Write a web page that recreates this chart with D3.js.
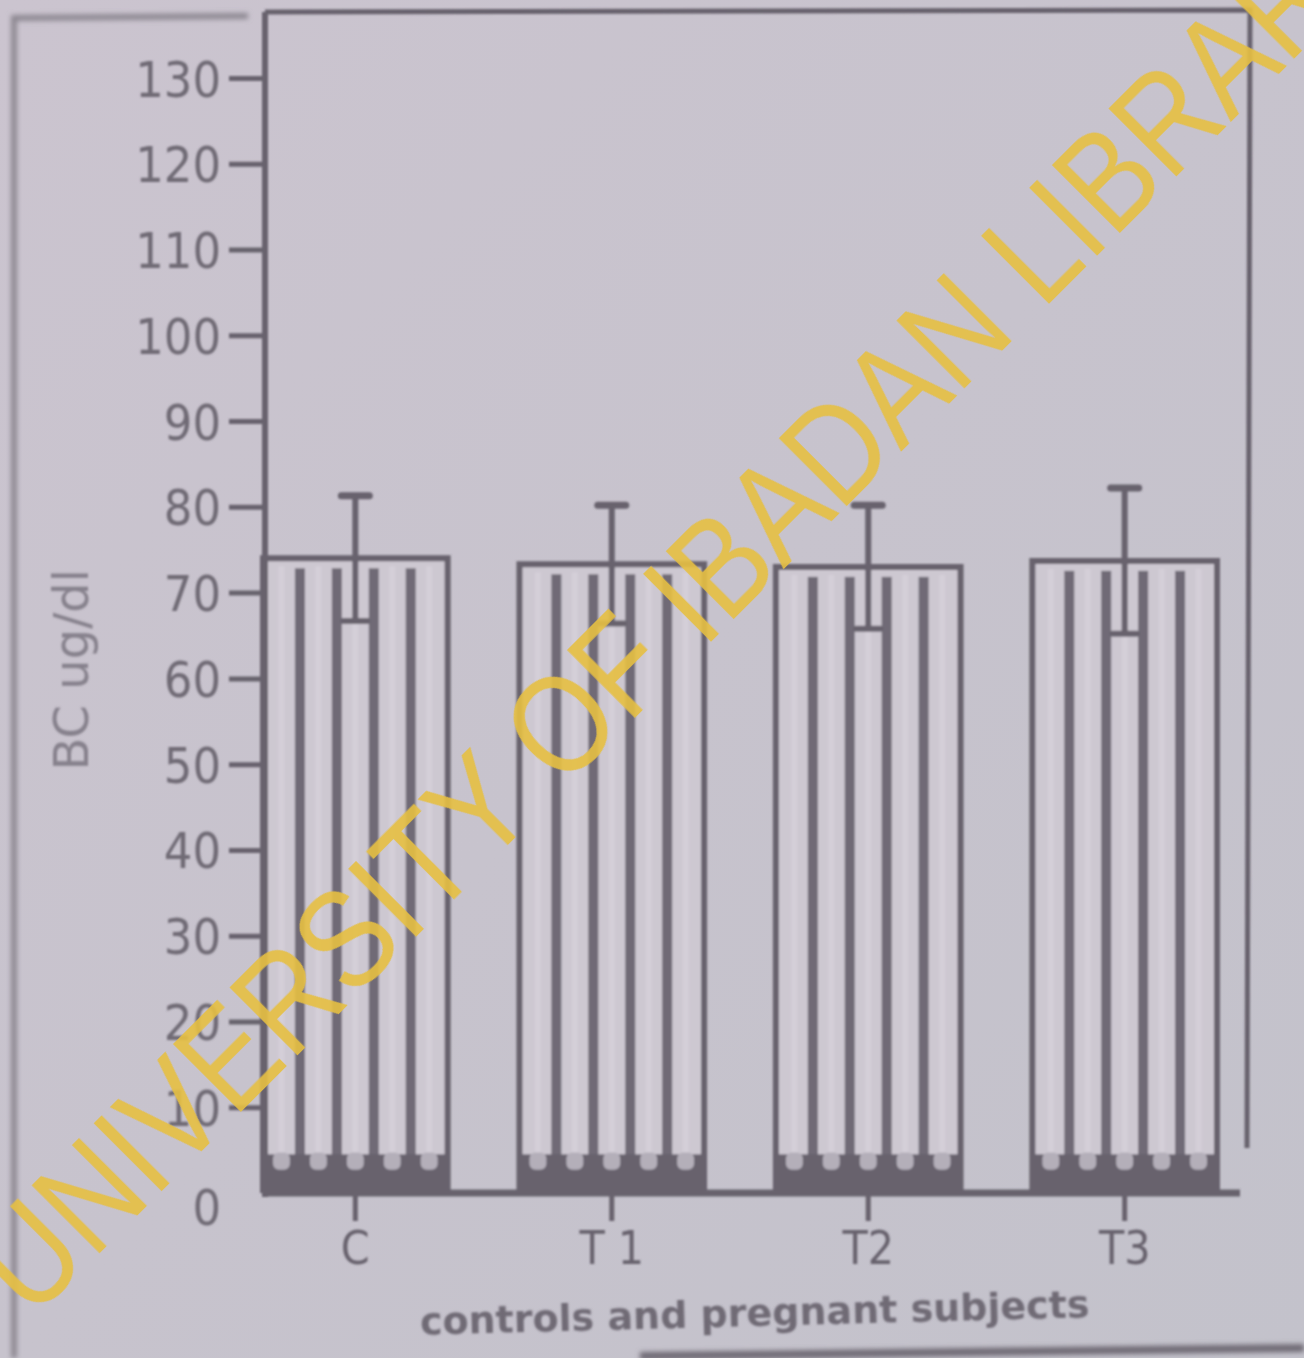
<!DOCTYPE html>
<html>
<head>
<meta charset="utf-8">
<script src="https://cdn.jsdelivr.net/npm/d3@7"></script>
<style>
  html, body { margin: 0; padding: 0; background: #c9c4cd; }
  svg { display: block; }
</style>
</head>
<body>
<svg id="chart" width="1304" height="1358"></svg>
<script>
// Serum BC (ug/dl) in controls and pregnant subjects, mean with SD
const groups = ["C", "T1", "T2", "T3"];
const groupLabels = ["C", "T 1", "T2", "T3"];
const means = [74.0, 73.3, 73.0, 73.7];
const sds = [7.3, 6.9, 7.2, 8.5];
const yTicks = [0, 10, 20, 30, 40, 50, 60, 70, 80, 90, 100, 110, 120, 130];

const W = 1304, H = 1358;
const ink = "#67626d";
const svg = d3.select("#chart");

const defs = svg.append("defs");
const soft = defs.append("filter").attr("id", "soft").attr("x", "-5%").attr("y", "-5%").attr("width", "110%").attr("height", "110%");
soft.append("feGaussianBlur").attr("stdDeviation", 0.9);
const edgeBlur = defs.append("filter").attr("id", "edgeBlur");
edgeBlur.append("feGaussianBlur").attr("stdDeviation", 2.5);

// paper background with a slight cooler tint towards the right
const bg = defs.append("linearGradient").attr("id", "paper").attr("x1", 0).attr("y1", 0).attr("x2", 1).attr("y2", 1);
bg.append("stop").attr("offset", 0).attr("stop-color", "#cbc4cf");
bg.append("stop").attr("offset", 1).attr("stop-color", "#c3c2cb");
svg.append("rect").attr("width", W).attr("height", H).attr("fill", "url(#paper)");

// sheet edges
const edges = svg.append("g").attr("filter", "url(#edgeBlur)").attr("stroke", "#8d8892").attr("fill", "none");
edges.append("path").attr("d", "M14,1358 L14,18 L248,16").attr("stroke-width", 6);
edges.append("path").attr("d", "M640,1356 L1304,1348").attr("stroke", "#6f6a74").attr("stroke-width", 8);

const x = d3.scaleBand().domain(groups).range([263, 1217]).paddingInner(0.28).paddingOuter(0);
const y = d3.scaleLinear().domain([0, 130]).range([1193, 78]);

const plot = svg.append("g").attr("filter", "url(#soft)");

// frame: top and right border of the plotting area
plot.append("path")
  .attr("d", `M265,12 L1250,10 L1247,${y(0) - 45}`)
  .attr("fill", "none").attr("stroke", ink).attr("stroke-width", 5);

// bars with vertical hatching
const nStripes = 5;
const bars = plot.selectAll("g.bar").data(groups).join("g").attr("class", "bar");
bars.each(function(g, i) {
  const sel = d3.select(this);
  const x0 = x(g), bw = x.bandwidth();
  const top = y(means[i]), bottom = y(0);
  sel.append("rect").attr("x", x0).attr("y", top).attr("width", bw).attr("height", bottom - top)
    .attr("fill", "#cdc8d1");
  // light inner highlights
  for (let k = 0; k < nStripes; k++) {
    sel.append("rect")
      .attr("x", x0 + bw * (k + 0.5) / nStripes - 3).attr("y", top + 8)
      .attr("width", 6).attr("height", bottom - top - 8)
      .attr("fill", "#d8d4dc").attr("opacity", 0.6);
  }
  // interior dark stripes
  for (let k = 1; k < nStripes; k++) {
    sel.append("rect")
      .attr("x", x0 + bw * k / nStripes - 5).attr("y", top + 10)
      .attr("width", 10).attr("height", bottom - top - 10)
      .attr("fill", "#57525f").attr("opacity", 0.8);
  }
  // outline: left, right and top edge
  sel.append("path")
    .attr("d", `M${x0},${bottom} L${x0},${top} L${x0 + bw},${top} L${x0 + bw},${bottom}`)
    .attr("fill", "none").attr("stroke", ink).attr("stroke-width", 6);
  // heavy inked base of the bar
  sel.append("rect").attr("x", x0).attr("y", y(4.5)).attr("width", bw).attr("height", bottom - y(4.5))
    .attr("fill", ink);
  for (let k = 0; k < nStripes; k++) {
    sel.append("rect")
      .attr("x", x0 + bw * k / nStripes + 10).attr("y", y(4.5) - 2)
      .attr("width", bw / nStripes - 20).attr("height", (bottom - y(4.5)) * 0.45)
      .attr("rx", 6)
      .attr("fill", "#b4afb9");
  }
});

// error bars (mean ± SD)
const err = plot.selectAll("g.err").data(groups).join("g").attr("class", "err")
  .attr("stroke", ink).attr("fill", "none");
err.append("line")
  .attr("x1", d => x(d) + x.bandwidth() / 2).attr("x2", d => x(d) + x.bandwidth() / 2)
  .attr("y1", (d, i) => y(means[i] + sds[i])).attr("y2", (d, i) => y(means[i] - sds[i]))
  .attr("stroke-width", 6);
err.append("line")
  .attr("x1", d => x(d) + x.bandwidth() / 2 - 14).attr("x2", d => x(d) + x.bandwidth() / 2 + 14)
  .attr("y1", (d, i) => y(means[i] + sds[i])).attr("y2", (d, i) => y(means[i] + sds[i]))
  .attr("stroke-width", 7).attr("stroke-linecap", "round");
err.append("line")
  .attr("x1", d => x(d) + x.bandwidth() / 2 - 12).attr("x2", d => x(d) + x.bandwidth() / 2 + 12)
  .attr("y1", (d, i) => y(means[i] - sds[i])).attr("y2", (d, i) => y(means[i] - sds[i]))
  .attr("stroke-width", 6).attr("stroke-linecap", "round");

// y axis
const yAxis = d3.axisLeft(y).tickValues(yTicks).tickSize(36).tickPadding(8).tickFormat(d3.format("d"));
const gy = plot.append("g").attr("transform", "translate(265,0)").call(yAxis);
gy.select(".domain").remove();
gy.selectAll(".tick line").attr("stroke", ink).attr("stroke-width", 5);
gy.selectAll(".tick text")
  .attr("fill", "#6f6a75")
  .style("font-family", "'Liberation Sans Narrow', 'DejaVu Sans Condensed', sans-serif")
  .style("font-size", "50px")
  .attr("dy", "0.36em");
gy.selectAll(".tick").filter(d => d === 0).select("text").attr("dy", "0.62em").attr("x", -44);
gy.selectAll(".tick").filter(d => d === 0).select("line").remove();
plot.append("line").attr("x1", 265).attr("x2", 265).attr("y1", 12).attr("y2", y(0) + 4)
  .attr("stroke", ink).attr("stroke-width", 6);

// x axis
const xAxis = d3.axisBottom(x).tickSize(28).tickPadding(10).tickFormat((d, i) => groupLabels[i]);
const gx = plot.append("g").attr("transform", `translate(0,${y(0)})`).call(xAxis);
gx.select(".domain").remove();
gx.selectAll(".tick line").attr("stroke", ink).attr("stroke-width", 5);
gx.selectAll(".tick text")
  .attr("fill", ink)
  .style("font-family", "'Liberation Sans Narrow', 'DejaVu Sans Condensed', sans-serif")
  .style("font-size", "46px");
plot.append("line").attr("x1", 262).attr("x2", 1240).attr("y1", y(0)).attr("y2", y(0))
  .attr("stroke", ink).attr("stroke-width", 7);

// axis titles
plot.append("text")
  .attr("transform", `translate(88,${y(61)}) rotate(-90)`)
  .attr("text-anchor", "middle")
  .attr("fill", "#86818c")
  .style("font-family", "'DejaVu Sans', sans-serif")
  .style("font-size", "48px")
  .text("BC ug/dl");
plot.append("text")
  .attr("transform", "translate(755,1326) rotate(-1.5)")
  .attr("text-anchor", "middle")
  .attr("fill", "#6f6a75")
  .style("font-family", "'DejaVu Sans', sans-serif")
  .style("font-size", "38px")
  .style("font-weight", "bold")
  .text("controls and pregnant subjects");

// library watermark
svg.append("text")
  .attr("transform", "translate(682,600) rotate(-45)")
  .attr("text-anchor", "middle")
  .attr("dy", "0.36em")
  .attr("fill", "#e6bf42")
  .attr("opacity", 0.9)
  .style("font-family", "'Liberation Sans', Arial, sans-serif")
  .style("font-size", "140px")
  .attr("textLength", 1940)
  .attr("lengthAdjust", "spacingAndGlyphs")
  .text("UNIVERSITY OF IBADAN LIBRARY");
</script>
</body>
</html>
